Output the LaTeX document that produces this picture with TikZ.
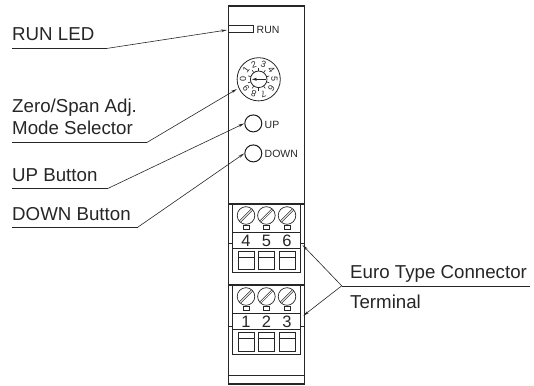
\documentclass[tikz,border=0pt]{standalone}
\usepackage{fontspec}
\setmainfont{Liberation Sans}
\usetikzlibrary{arrows.meta}
\tikzset{
  x=1pt,y=-1pt,
  ln/.style={draw=black!85,line width=0.8pt},
  wall/.style={draw=black!85,line width=1.3pt},
  lead/.style={draw=black!85,line width=0.6pt},
  arr/.style={lead,-{Stealth[length=6pt,width=2.6pt]}},
  lab/.style={font=\fontsize{18.7}{20}\selectfont,text=black!85,anchor=base west,inner sep=0pt},
  small/.style={font=\fontsize{10.5}{11}\selectfont,text=black!85,anchor=west,inner sep=0pt},
  num/.style={font=\fontsize{16.5}{17}\selectfont,text=black!85,inner sep=0pt},
  dialnum/.style={font=\fontsize{9}{9}\selectfont,text=black!85,inner sep=0pt},
  btn/.style={circle,draw=black!90,line width=1pt,minimum size=17pt,inner sep=0pt},
}
\newcommand{\terminal}[7]{%
  \draw[ln] (232.3,#1) rectangle (300.7,#4);
  \draw[ln] (232.3,#2) -- (300.7,#2) (232.3,#3) -- (300.7,#3);
  \foreach \cx/\d in {246/#5,266.4/#6,287/#7}{
    \draw[lead,line width=0.7pt] (\cx,#1+11.5) circle (8.8);
    \draw[lead,line width=0.5pt] (\cx-6.5,#1+16.8) -- (\cx+5.3,#1+5.0) (\cx-5.3,#1+18.0) -- (\cx+6.5,#1+6.2);
    \draw[lead] (\cx-2.8,#1+21.5) rectangle (\cx+2.8,#1+25);
    \node[num] at (\cx,#2+8.5) {\d};
    \draw[ln] (\cx-8,#3+3) rectangle (\cx+8,#4-3);
    \draw[lead] (\cx-8,#3+9) -- (\cx+8,#3+9);
  }
}
\begin{document}
\begin{tikzpicture}
\useasboundingbox (0,0) rectangle (534,385);
% body
\draw[wall] (228.8,384) -- (228.8,6) -- (304.2,6) -- (304.2,384) -- cycle;
\draw[wall] (228.8,204) -- (304.2,204) (228.8,285) -- (304.2,285);
\draw[ln] (228.8,375) -- (304.2,375);
\draw[ln] (228.8,243) -- (232.3,243) (300.7,243) -- (304.2,243)
          (228.8,326) -- (232.3,326) (300.7,326) -- (304.2,326);
% LED
\draw[ln] (228.8,25.5) rectangle (253,32.5);
\node[small] (runtxt) at (256.5,29.5) {RUN};
% dial
\coordinate (dial) at (258.7,79.3);
\draw[ln] (dial) circle (21.6);
\draw[ln] (dial) circle (8.3);
\foreach \d [count=\i from 0] in {0,1,2,3,4,5,6,7,8,9}{
  \pgfmathsetmacro{\ang}{180-36*\i}
  \node[dialnum,rotate=\ang-90] at ([shift={(-\ang:15.6)}]dial) {\d};
  \draw[lead] ([shift={(-\ang-18:8.3)}]dial) -- ([shift={(-\ang-18:11.2)}]dial);
}
\draw[lead,-{Stealth[length=5pt,width=3pt]}] (265.5,79.3) -- (252,79.3);
% buttons
\node[btn] (up) at (253.3,123.4) {};
\node[small] (uptxt) at (264.5,124.5) {UP};
\node[btn] (down) at (253.3,153.4) {};
\node[small] (downtxt) at (264.5,153.5) {DOWN};
% terminals
\terminal{204}{232}{248}{272}{4}{5}{6}
\terminal{285}{313}{329}{354}{1}{2}{3}
% connector ends
\coordinate (led) at (227,30);
\coordinate (dialedge) at (237,89);
\coordinate (c1) at (302.5,245);
\coordinate (c2) at (303.3,315.7);
% labels
\node[lab] (l1) at (12,41) {RUN LED};
\node[lab] (l2) at (12,112) {Zero/Span Adj.};
\node[lab] (l3) at (12,134) {Mode Selector};
\node[lab] (l4) at (12,181) {UP Button};
\node[lab] (l5) at (12,220) {DOWN Button};
\node[lab] (l6) at (350,278.5) {Euro Type Connector};
\node[lab] (l7) at (350,308.5) {Terminal};
% leaders
\coordinate (a1) at (107,48.4);
\draw[lead] (12,48.4) -- (a1);
\draw[arr] (a1) -- (led);
\coordinate (a2) at (146.5,142.7);
\draw[lead] (12,142.7) -- (a2);
\draw[arr] (a2) -- (dialedge);
\coordinate (a3) at (108,188.4);
\draw[lead] (12,188.4) -- (a3);
\draw[arr] (a3) -- (up.west);
\coordinate (a4) at (137.5,227.4);
\draw[lead] (12,227.4) -- (a4);
\draw[arr] (a4) -- (down.west);
\coordinate (a5) at (341.7,285.8);
\draw[lead] (a5) -- (530,285.8);
\draw[arr] (a5) -- (c1);
\draw[arr] (a5) -- (c2);
\end{tikzpicture}
\end{document}
